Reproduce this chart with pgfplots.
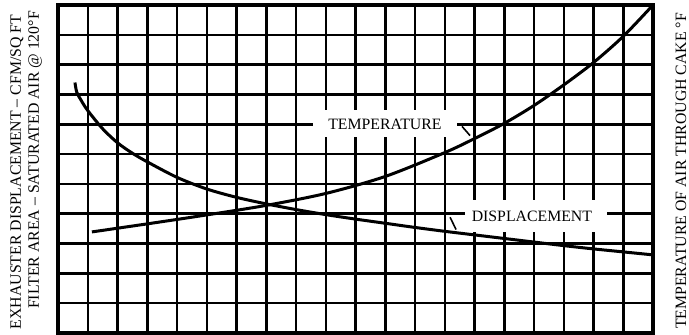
\documentclass[border=0pt]{standalone}
\usepackage{fontspec}
\setmainfont{Liberation Serif}
\usepackage{pgfplots}
\pgfplotsset{compat=1.18}
\begin{document}
\begin{tikzpicture}[x=1pt,y=1pt,font=\fontsize{15.8}{18}\selectfont]
\useasboundingbox (0,0) rectangle (689,335);
\begin{axis}[at={(58pt,2pt)}, anchor=south west, scale only axis,
  width=595pt, height=328pt,
  xmin=0, xmax=20, ymin=0, ymax=11,
  xtick={0,...,20}, ytick={0,...,11},
  xticklabels={}, yticklabels={},
  major tick length=0pt,
  grid=major, major grid style={black, line width=2.5pt},
  axis line style={black, line width=3.5pt},
  clip=false]
\fill[white] (axis cs:8.57,6.57) rectangle (axis cs:13.41,7.48);
\fill[white] (axis cs:13.68,3.39) rectangle (axis cs:18.45,4.46);
\node[inner sep=0pt] at (axis cs:10.99,7.01) {TEMPERATURE};
\node[inner sep=0pt] at (axis cs:15.93,3.92) {DISPLACEMENT};
% displacement
\addplot[black, line width=3pt, smooth] coordinates {
(0.57,8.40) (0.63,8.08) (0.78,7.80) (1.0,7.46) (1.5,6.85) (2.0,6.38)
(2.5,6.03) (3.0,5.74) (4.0,5.22) (5.0,4.83) (6.0,4.55) (7.0,4.33)
(8.0,4.14) (9.0,3.97) (10.0,3.82) (11.0,3.68) (12.0,3.54) (13.0,3.41)
(14.0,3.29) (15.0,3.17) (16.0,3.05) (17.0,2.93) (18.0,2.82) (19.0,2.72) (20.0,2.62)};
% temperature
\addplot[black, line width=3pt, smooth] coordinates {
(1.14,3.39) (3.0,3.66) (5.0,3.96) (7.0,4.28) (9.0,4.68) (11.0,5.25)
(13.0,6.05) (14.0,6.52) (15.0,7.03) (16.0,7.63) (17.0,8.32) (18.0,9.07)
(19.0,9.95) (20.0,11.0)};
% leader ticks
\draw[black, line width=1.6pt] (axis cs:13.58,6.93) -- (axis cs:13.85,6.62);
\draw[black, line width=1.6pt] (axis cs:13.18,3.88) -- (axis cs:13.38,3.47);
\end{axis}
\node[rotate=90] at (17,163) {EXHAUSTER DISPLACEMENT – CFM/SQ FT};
\node[rotate=90] at (35,175) {FILTER AREA – SATURATED AIR @ 120°F};
\node[rotate=90] at (681,164) {TEMPERATURE OF AIR THROUGH CAKE °F};
\end{tikzpicture}
\end{document}
